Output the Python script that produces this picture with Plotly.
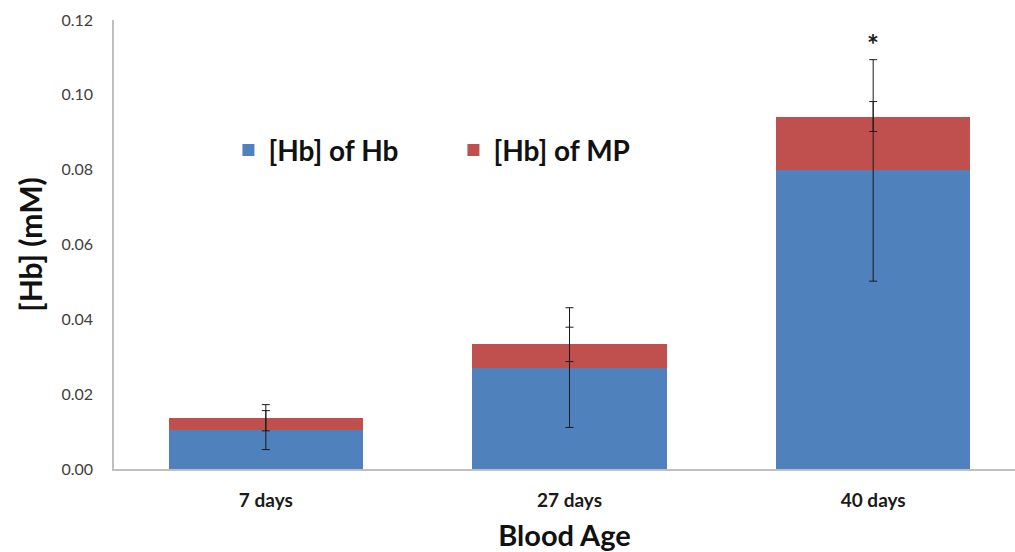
import plotly.graph_objects as go

# Blood age groups
categories = ["7 days", "27 days", "40 days"]

# Haemoglobin concentration (mM) from free Hb and from microparticles (MP)
hb_of_hb = [0.0104, 0.0271, 0.0798]
hb_of_mp = [0.0033, 0.0062, 0.0144]

# Error bar half-widths (mM)
hb_err = [0.0052, 0.0160, 0.0296]
mp_err = [0.0035, 0.0046, 0.0040]

# Significance marker
star_category = "40 days"
star_value = 0.1135

BLUE = "#4F81BD"
RED = "#C0504D"
FONT = "Lato"

err_style = dict(type="data", visible=True, color="#1a1a1a", thickness=1, width=4)

fig = go.Figure()
fig.add_trace(go.Bar(
    x=categories, y=hb_of_hb, name="[Hb] of Hb",
    marker=dict(color=BLUE, line=dict(width=0)),
))
fig.add_trace(go.Bar(
    x=categories, y=hb_of_mp, name="[Hb] of MP",
    marker=dict(color=RED, line=dict(width=0)),
))

# Error bars drawn above both stacked segments so they stay visible
stack_top = [a + b for a, b in zip(hb_of_hb, hb_of_mp)]
for tops, errs in ((hb_of_hb, hb_err), (stack_top, mp_err)):
    fig.add_trace(go.Scatter(
        x=categories, y=tops, mode="markers",
        marker=dict(size=1, opacity=0),
        error_y=dict(array=errs, **err_style),
        showlegend=False, hoverinfo="skip",
    ))

fig.add_annotation(
    x=star_category, y=star_value, text="<b>*</b>", showarrow=False,
    font=dict(family=FONT, size=28, color="#1a1a1a"),
)

fig.update_layout(
    width=1015, height=552,
    margin=dict(l=114, r=0, t=20, b=83),
    barmode="stack", bargap=0.36,
    plot_bgcolor="white", paper_bgcolor="white",
    font=dict(family=FONT, color="#1a1a1a"),
    legend=dict(
        orientation="h", x=0.127, y=0.71, xanchor="left", yanchor="middle",
        font=dict(family=FONT, size=28, color="#111111", weight="bold"),
        entrywidth=180, entrywidthmode="pixels",
        bgcolor="rgba(0,0,0,0)", traceorder="normal",
    ),
    xaxis=dict(
        range=[-0.5, 2.467], showline=True, linecolor="#bfbfbf", linewidth=1.5,
        ticks="", ticklabelstandoff=13, showgrid=False,
        tickfont=dict(family=FONT, size=19, color="#1a1a1a", weight="bold"),
        title=dict(text="<b>Blood Age</b>", font=dict(family=FONT, size=29, color="#111111"),
                   standoff=18),
    ),
    yaxis=dict(
        range=[0, 0.12], dtick=0.02, tickformat=".2f", showline=True,
        linecolor="#bfbfbf", linewidth=1.5, ticks="", showgrid=False, zeroline=False,
        ticklabelstandoff=16,
        tickfont=dict(family=FONT, size=16, color="#404040"),
        title=dict(text="<b>[Hb] (mM)</b>", font=dict(family=FONT, size=30, color="#111111"),
                   standoff=10),
    ),
)

fig.write_html("out.html")
